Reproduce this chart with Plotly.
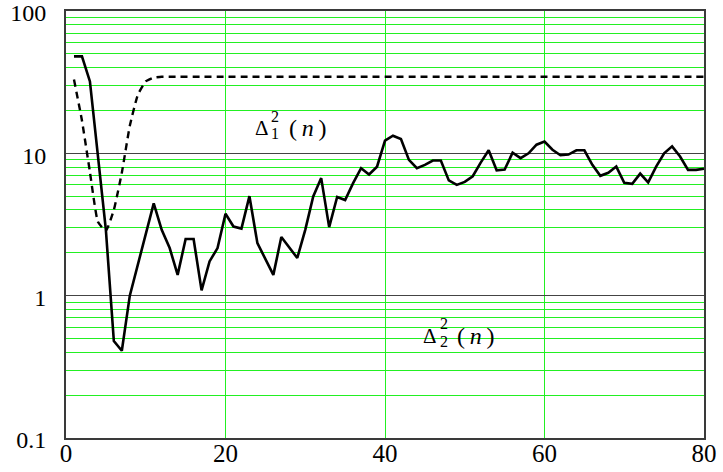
import plotly.graph_objects as go
import math

n_vals = list(range(1, 81))

delta1_sq = [48, 48, 32, 10, 2.9, 0.48, 0.41, 1.0, 1.65, 2.7,
             4.45, 2.9, 2.16, 1.4, 2.5, 2.5, 1.09, 1.74, 2.16, 3.76,
             3.06, 2.96, 5.0, 2.34, 1.81, 1.40, 2.58, 2.18, 1.84, 2.9,
             4.98, 6.7, 3.03, 4.94, 4.7, 6.18, 7.87, 7.1, 8.05, 12.3,
             13.3, 12.6, 9.0, 7.87, 8.3, 8.9, 8.9, 6.45, 6.0, 6.3,
             6.9, 8.6, 10.5, 7.6, 7.7, 10.1, 9.25, 10.0, 11.5, 12.1,
             10.6, 9.7, 9.8, 10.5, 10.5, 8.3, 6.95, 7.3, 8.07, 6.2,
             6.1, 7.2, 6.25, 8.07, 10.0, 11.2, 9.5, 7.65, 7.65, 7.8]

delta2_sq = [33, 17, 7.4, 3.3, 2.85, 4.0, 7.3, 15.6, 25.7, 32,
             34] + [34.5] * 69

y_tick_vals = [0.1, 1, 10, 100]
y_tick_text = ["0.1", "1", "10", "100"]
y_minor_vals = [m * d for d in (0.1, 1, 10) for m in range(2, 10)]
x_tick_vals = [0, 20, 40, 60, 80]
x_tick_text = ["0", "20", "40", "60", "80"]

FONT = "'Liberation Serif', Tinos, Times, serif"
GREEN = "#22f022"

fig = go.Figure()
fig.add_trace(go.Scatter(x=n_vals, y=delta2_sq, mode="lines",
                         line=dict(color="black", width=2.4, dash="7px,5px", shape="spline", smoothing=0.4),
                         showlegend=False, hoverinfo="skip"))
fig.add_trace(go.Scatter(x=n_vals, y=delta1_sq, mode="lines",
                         line=dict(color="black", width=2.6),
                         showlegend=False, hoverinfo="skip"))

# labels built from separate pieces (stacked sub/superscripts)
def label(x_delta, y_val, sub):
    ly = math.log10(y_val)
    anns = [
        dict(x=x_delta, y=ly, text="Δ", font=dict(size=21)),
        dict(x=x_delta + 1.65, y=ly + 0.085, text="2", font=dict(size=16)),
        dict(x=x_delta + 1.65, y=ly - 0.035, text=sub, font=dict(size=16)),
        dict(x=x_delta + 5.75, y=ly + 0.0, text="(\u2009<i>n</i>\u2009)", font=dict(size=24)),
    ]
    for a in anns:
        a.update(xref="x", yref="y", showarrow=False, xanchor="center", yanchor="middle")
        a["font"]["family"] = FONT
        a["font"]["color"] = "black"
    return anns

annotations = label(24.55, 15.0, "1") + label(45.7, 0.52, "2")

fig.update_layout(
    width=723, height=472,
    margin=dict(l=66, r=19, t=11, b=34, autoexpand=False),
    paper_bgcolor="white", plot_bgcolor="white",
    font=dict(family=FONT, color="black", size=22),
    annotations=annotations,
    xaxis=dict(range=[0, 80], tickvals=x_tick_vals, ticktext=x_tick_text,
               showgrid=True, gridcolor=GREEN, gridwidth=1,
               showline=True, linecolor="#3a3a3a", linewidth=2, mirror=True,
               ticks="", zeroline=False, ticklabelstandoff=-8, automargin=False,
               ticklabeloverflow="allow",
               tickfont=dict(size=25, family=FONT)),
    yaxis=dict(type="log", range=[-1, 2], tickvals=y_tick_vals, ticktext=y_tick_text,
               showgrid=True, gridcolor="#444", gridwidth=1,
               minor=dict(tickmode="array", tickvals=y_minor_vals, showgrid=True,
                          gridcolor=GREEN, gridwidth=1, ticks=""),
               showline=True, linecolor="#3a3a3a", linewidth=2, mirror=True,
               ticks="", zeroline=False, ticklabelstandoff=13, ticklabelshift=2,
               automargin=False, ticklabeloverflow="allow",
               tickfont=dict(size=24, family=FONT)),
)

fig.write_html("out.html", config={"displayModeBar": False},
               post_script="document.body.style.margin='0';document.body.style.overflow='hidden';")
